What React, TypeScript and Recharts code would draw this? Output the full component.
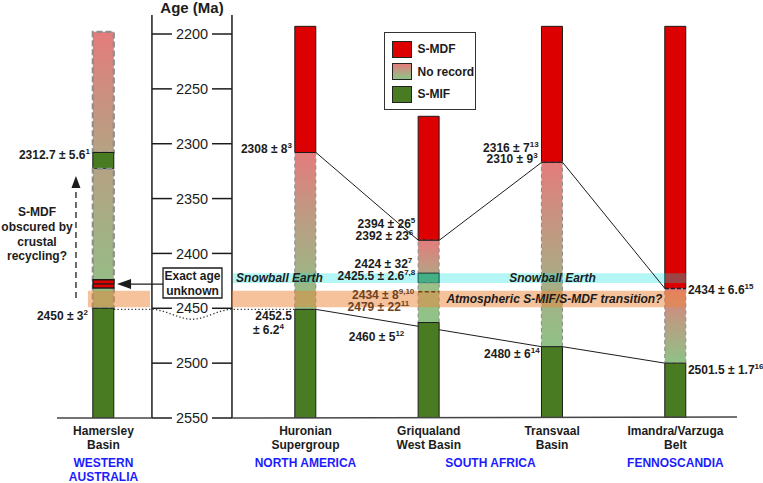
"use client";

import React from "react";
import {
    ComposedChart, Bar, Cell, Line, XAxis, YAxis,
    ReferenceArea, ReferenceLine, ReferenceDot, Legend
} from "recharts";

const FONT = "'Liberation Sans', Arial, Helvetica, sans-serif";
const INK = "#1c1c1c";
const RED = "#dc0000";
const GREEN = "#487b22";
const BLUE = "#1c1cff";
const BROWN = "#6e431f";

// basins and regions
const basinNames = [["Hamersley", "Basin"], ["Huronian", "Supergroup"], ["Griqualand", "West Basin"], ["Transvaal", "Basin"], ["Imandra/Varzuga", "Belt"]];
const regionNames = [["WESTERN", "AUSTRALIA"], ["NORTH AMERICA"], ["SOUTH AFRICA"], ["FENNOSCANDIA"]];
const ageTicks = [2200, 2250, 2300, 2350, 2400, 2450, 2500, 2550];

// record of each basin, top to bottom: [from Ma, to Ma, kind]
type Seg = [number, number, string];
const hamersley: Seg[] = [[2198, 2308, "gradUpper"], [2308, 2323, "mif"], [2323, 2450, "gradLower"], [2450, 2550, "mif"]];
const huronian: Seg[] = [[2193, 2308, "mdf"], [2308, 2451, "grad"], [2451, 2550, "mif"]];
const griqualand: Seg[] = [[2275, 2388, "mdf"], [2388, 2418, "gradUpper"], [2418, 2427, "box"], [2427, 2463, "gradLight"], [2463, 2550, "mif"]];
const transvaal: Seg[] = [[2193, 2317, "mdf"], [2317, 2485, "grad"], [2485, 2550, "mif"]];
const imandra: Seg[] = [[2193, 2432, "mdf"], [2432, 2500, "grad"], [2500, 2550, "mif"]];
const basinSegments = [hamersley, huronian, griqualand, transvaal, imandra];

// event bands (Ma)
const snowballEarth = [2418, 2427];
const transition = [2434, 2449];
const unknownAgeBed = [2424, 2431.5];

// dates: column, side, label age, text, reference
const dates = [
    { col: 0, side: "left", at: 2310, text: "2312.7 ± 5.6", sup: "1" },
    { col: 0, side: "left", at: 2456.5, text: "2450 ± 3", sup: "2", gap: 5 },
    { col: 1, side: "left", at: 2304.5, text: "2308 ± 8", sup: "3" },
    { col: 1, side: "left", at: 2456.6, text: "2452.5", sup: "" },
    { col: 1, side: "left", at: 2469.8, text: "± 6.2", sup: "4", gap: 11 },
    { col: 2, side: "left", at: 2372.5, text: "2394 ± 26", sup: "5" },
    { col: 2, side: "left", at: 2383.5, text: "2392 ± 23", sup: "6", gap: 5 },
    { col: 2, side: "left", at: 2409, text: "2424 ± 32", sup: "7", gap: 6 },
    { col: 2, side: "left", at: 2420, text: "2425.5 ± 2.6", sup: "7,8" },
    { col: 2, side: "left", at: 2437.5, text: "2434 ± 8", sup: "9,10", brown: true, gap: 4 },
    { col: 2, side: "left", at: 2448.5, text: "2479 ± 22", sup: "11", brown: true, gap: 9 },
    { col: 2, side: "left", at: 2475.5, text: "2460 ± 5", sup: "12", gap: 14 },
    { col: 3, side: "left", at: 2304, text: "2316 ± 7", sup: "13" },
    { col: 3, side: "left", at: 2314, text: "2310 ± 9", sup: "3", gap: 4 },
    { col: 3, side: "left", at: 2491, text: "2480 ± 6", sup: "14", gap: 2 },
    { col: 4, side: "right", at: 2433.3, text: "2434 ± 6.6", sup: "15" },
    { col: 4, side: "right", at: 2506, text: "2501.5 ± 1.7", sup: "16" },
];

const legendItems = [
    { label: "S-MDF", swatch: RED },
    { label: "No record", swatch: "linear-gradient(#e47c7c, #b5a283, #8fc286)" },
    { label: "S-MIF", swatch: GREEN },
];

// layout (x in column units)
const COL_X = [-0.638, 1, 2, 3, 4];
const REGION_X = [-0.638, 1, 2.5, 4];
const X_TICKS = [-0.638, 1, 2, 2.5, 3, 4];
const X_DOMAIN = [-1.477, 4.71];
const HALF = 0.085;
const AXIS_L = -0.245;
const AXIS_R = 0.404;
const AXIS_MID = 0.08;
const TICK_LEN = 0.162;

const rows = basinSegments.map((segs, i) => {
    const row: Record<string, number> = { x: COL_X[i], base: segs[0][0] };
    segs.forEach(([from, to], j) => { row[`s${j}`] = to - from; });
    return row;
});
const SEG_KEYS = ["s0", "s1", "s2", "s3", "s4"];

const mdfBase = (i: number) => basinSegments[i].find((s) => s[2] === "mdf")![1];
const mifTop = (i: number) => basinSegments[i][basinSegments[i].length - 1][0];

const mdfLink = [
    { x: COL_X[1] - HALF, age: mdfBase(1) }, { x: COL_X[1] + HALF, age: mdfBase(1) },
    { x: COL_X[2] - HALF, age: mdfBase(2) }, { x: COL_X[2] + HALF, age: mdfBase(2) },
    { x: COL_X[3] - HALF, age: mdfBase(3) }, { x: COL_X[3] + HALF, age: mdfBase(3) },
    { x: COL_X[4] - HALF, age: mdfBase(4) },
];
const mifLink = [
    { x: COL_X[1] + HALF, age: mifTop(1) },
    { x: COL_X[3] - HALF, age: mifTop(3) }, { x: COL_X[3] + HALF, age: mifTop(3) },
    { x: COL_X[4] - HALF, age: mifTop(4) },
];
const correlation = [
    { x: COL_X[0] + HALF, age: 2451 },
    { x: AXIS_L, age: 2451 },
    { x: AXIS_MID, age: 2460 },
    { x: AXIS_R, age: 2451 },
    { x: COL_X[1] - HALF, age: 2451 },
];

const segStyle = (kind: string | undefined, col: number): any => {
    if (!kind) return { fill: "none", stroke: "none" };
    if (kind === "mdf") return { fill: RED, stroke: INK, strokeWidth: 1 };
    if (kind === "mif") return { fill: GREEN, stroke: INK, strokeWidth: 1 };
    if (kind === "box") return { fill: "#5f9a5a", stroke: INK, strokeWidth: 1 };
    const thick = col === 0;
    return {
        fill: `url(#${kind})`,
        stroke: "#8e8e8e",
        strokeWidth: thick ? 2.2 : 1.1,
        strokeDasharray: thick ? "6 3" : "4 3",
    };
};

const textShape = (content: React.ReactNode, o: any = {}) => (p: any) => (
    <text
        x={p.cx + (o.dx ?? 0)}
        y={p.cy + (o.dy ?? 0)}
        textAnchor={o.anchor ?? "middle"}
        fontFamily={FONT}
        fontSize={o.size ?? 12}
        fontWeight={o.weight ?? 700}
        fontStyle={o.italic ? "italic" : "normal"}
        fill={o.color ?? INK}
    >
        {content}
    </text>
);

const BasinTick = ({ x, y, payload }: any) => {
    const ci = COL_X.indexOf(payload.value);
    const ri = REGION_X.indexOf(payload.value);
    return (
        <g fontFamily={FONT} fontSize={12} fontWeight={700}>
            {ci >= 0 && basinNames[ci].map((line, k) => (
                <text key={`b${k}`} x={x} y={y + 16.5 + k * 14.3} textAnchor="middle" fill={INK}>{line}</text>
            ))}
            {ri >= 0 && regionNames[ri].map((line, k) => (
                <text key={`r${k}`} x={x} y={y + 48.5 + k * 14} textAnchor="middle" fill={BLUE}>{line}</text>
            ))}
        </g>
    );
};

const LegendBox = () => (
    <div style={{ position: "relative", width: 92, height: 78, boxSizing: "border-box", border: "1.5px solid #333", background: "#fff", fontFamily: FONT }}>
        {legendItems.map((it, i) => (
            <div key={it.label} style={{ position: "absolute", left: 6.5, top: 7.5 + i * 22.5, display: "flex", alignItems: "center" }}>
                <div style={{ width: 20, height: 17, boxSizing: "border-box", border: "1.5px solid #222", background: it.swatch }} />
                <span style={{ marginLeft: 6, fontSize: 12, fontWeight: 700, color: INK, whiteSpace: "nowrap" }}>{it.label}</span>
            </div>
        ))}
    </div>
);

const arrowLeft = (p: any) => (
    <polygon points={`${p.cx},${p.cy} ${p.cx + 14},${p.cy - 5} ${p.cx + 14},${p.cy + 5}`} fill={INK} />
);
const arrowUp = (p: any) => (
    <polygon points={`${p.cx},${p.cy} ${p.cx - 4.5},${p.cy + 12} ${p.cx + 4.5},${p.cy + 12}`} fill={INK} />
);

export default function App() {
    return (
        <div style={{ width: 763, height: 483, fontFamily: FONT }}>
            <style>{"body{margin:0}"}</style>
            <ComposedChart width={763} height={483} data={rows} margin={{ top: 0, right: 0, bottom: 0, left: 0 }}>
                <defs>
                    <linearGradient id="grad" x1="0" y1="0" x2="0" y2="1">
                        <stop offset="0" stopColor="#e47c7c" />
                        <stop offset="0.5" stopColor="#b5a283" />
                        <stop offset="1" stopColor="#8fc286" />
                    </linearGradient>
                    <linearGradient id="gradUpper" x1="0" y1="0" x2="0" y2="1">
                        <stop offset="0" stopColor="#e47c7c" />
                        <stop offset="1" stopColor="#b5a283" />
                    </linearGradient>
                    <linearGradient id="gradLower" x1="0" y1="0" x2="0" y2="1">
                        <stop offset="0" stopColor="#b5a283" />
                        <stop offset="1" stopColor="#8fc286" />
                    </linearGradient>
                    <linearGradient id="gradLight" x1="0" y1="0" x2="0" y2="1">
                        <stop offset="0" stopColor="#9cc08a" />
                        <stop offset="1" stopColor="#8fc286" />
                    </linearGradient>
                </defs>
                <XAxis
                    type="number"
                    dataKey="x"
                    domain={X_DOMAIN}
                    allowDataOverflow
                    ticks={X_TICKS}
                    interval={0}
                    height={65}
                    axisLine={false}
                    tickLine={false}
                    tickSize={0}
                    tickMargin={0}
                    tick={(p: any) => <BasinTick {...p} />}
                />
                <XAxis xAxisId="links" type="number" dataKey="x" domain={X_DOMAIN} allowDataOverflow hide />
                <YAxis type="number" domain={[2169, 2550]} reversed allowDataOverflow hide />

                {/* S-MIF boundary link, drawn behind the columns */}
                <Line xAxisId="links" data={mifLink} dataKey="age" type="linear" stroke={INK} strokeWidth={1} dot={false} activeDot={false} isAnimationActive={false} zIndex={250} />

                <Bar dataKey="base" stackId="col" barSize={21} fill="none" isAnimationActive={false} />
                {SEG_KEYS.map((key, j) => (
                    <Bar key={key} dataKey={key} stackId="col" barSize={21} isAnimationActive={false}>
                        {basinSegments.map((segs, i) => (
                            <Cell key={i} {...segStyle(segs[j]?.[2], i)} />
                        ))}
                    </Bar>
                ))}

                {/* bands */}
                <ReferenceArea x1={AXIS_R + 0.008} x2={COL_X[4] + HALF} y1={snowballEarth[0]} y2={snowballEarth[1]} fill="#08e0e0" fillOpacity={0.3} stroke="none" ifOverflow="visible" zIndex={450} />
                <ReferenceArea x1={-0.764} x2={-0.261} y1={transition[0]} y2={transition[1]} fill="#eb8539" fillOpacity={0.5} stroke="none" ifOverflow="visible" zIndex={450} />
                <ReferenceArea x1={AXIS_R} x2={COL_X[4] + HALF} y1={transition[0]} y2={transition[1]} fill="#eb8539" fillOpacity={0.5} stroke="none" ifOverflow="visible" zIndex={450} />

                {/* Hamersley bed of unknown age */}
                <ReferenceArea x1={COL_X[0] - HALF} x2={COL_X[0] + HALF} y1={unknownAgeBed[0]} y2={unknownAgeBed[1]} fill={RED} fillOpacity={1} stroke={INK} strokeWidth={1.3} ifOverflow="visible" zIndex={460} />
                <ReferenceLine segment={[{ x: COL_X[0] - HALF, y: (unknownAgeBed[0] + unknownAgeBed[1]) / 2 }, { x: COL_X[0] + HALF, y: (unknownAgeBed[0] + unknownAgeBed[1]) / 2 }]} stroke={INK} strokeWidth={1.3} ifOverflow="visible" zIndex={470} />

                {/* dashed horizons */}
                <ReferenceLine segment={[{ x: COL_X[2] - HALF, y: 2435 }, { x: COL_X[2] + HALF, y: 2435 }]} stroke={BROWN} strokeWidth={1.5} strokeDasharray="4 2.5" zIndex={470} />
                <ReferenceLine segment={[{ x: COL_X[4] - HALF, y: mdfBase(4) }, { x: COL_X[4] + HALF, y: mdfBase(4) }]} stroke={INK} strokeWidth={1.5} strokeDasharray="4 2" zIndex={470} />

                {/* S-MDF boundary link and Hamersley-Huronian correlation */}
                <Line xAxisId="links" data={mdfLink} dataKey="age" type="linear" stroke={INK} strokeWidth={1} dot={false} activeDot={false} isAnimationActive={false} zIndex={480} />
                <Line xAxisId="links" data={correlation} dataKey="age" type="monotone" stroke="#333" strokeWidth={1.3} strokeDasharray="1.3 2.2" dot={false} activeDot={false} isAnimationActive={false} zIndex={480} />

                {/* age axis */}
                <ReferenceLine segment={[{ x: AXIS_L, y: 2182.7 }, { x: AXIS_L, y: 2550 }]} stroke={INK} strokeWidth={1.5} />
                <ReferenceLine segment={[{ x: AXIS_R, y: 2182.7 }, { x: AXIS_R, y: 2550 }]} stroke={INK} strokeWidth={1.5} />
                {ageTicks.map((t) => (
                    <React.Fragment key={t}>
                        <ReferenceLine segment={[{ x: AXIS_L, y: t }, { x: AXIS_L + TICK_LEN, y: t }]} stroke={INK} strokeWidth={1.5} />
                        <ReferenceLine segment={[{ x: AXIS_R - TICK_LEN, y: t }, { x: AXIS_R, y: t }]} stroke={INK} strokeWidth={1.5} />
                        <ReferenceDot x={AXIS_MID} y={t} r={0} shape={textShape(String(t), { dy: 5.2, size: 14.5, weight: 400 })} />
                    </React.Fragment>
                ))}
                <ReferenceDot x={AXIS_MID} y={2182.7} r={0} shape={textShape("Age (Ma)", { dy: -2.5, size: 15 })} />

                {/* baselines */}
                <ReferenceLine segment={[{ x: -1.015, y: 2550 }, { x: AXIS_L, y: 2550 }]} stroke="#444" strokeWidth={1.5} />
                <ReferenceLine segment={[{ x: AXIS_R, y: 2550 }, { x: 4.499, y: 2549 }]} stroke="#444" strokeWidth={1.5} />

                {/* dates */}
                {dates.map((d, i) => {
                    const right = d.side === "right";
                    const gap = d.gap ?? 3;
                    return (
                        <ReferenceDot
                            key={i}
                            x={COL_X[d.col] + (right ? HALF : -HALF)}
                            y={d.at}
                            r={0}
                            zIndex={600}
                            shape={textShape(
                                <>
                                    {d.text}
                                    {d.sup && <tspan dy={-5} fontSize={8}>{d.sup}</tspan>}
                                </>,
                                { anchor: right ? "start" : "end", dx: right ? 2 : -gap, dy: 4.3, color: d.brown ? BROWN : INK }
                            )}
                        />
                    );
                })}

                {/* band labels */}
                <ReferenceDot x={0.789} y={2422.4} r={0} zIndex={600} shape={textShape("Snowball Earth", { dy: 4.3, italic: true })} />
                <ReferenceDot x={3.003} y={2422.4} r={0} zIndex={600} shape={textShape("Snowball Earth", { dy: 4.3, italic: true })} />
                <ReferenceDot x={3.019} y={2441.5} r={0} zIndex={600} shape={textShape("Atmospheric S-MIF/S-MDF transition?", { dy: 4.3, italic: true })} />

                {/* Hamersley notes */}
                <ReferenceDot
                    x={-1.177}
                    y={2362.2}
                    r={0}
                    shape={textShape(
                        ["S-MDF", "obscured by", "crustal", "recycling?"].map((l, k) => (
                            <tspan key={k} x={37} dy={k === 0 ? 0 : 14.7}>{l}</tspan>
                        )),
                        { dy: 4.3 }
                    )}
                />
                <ReferenceLine segment={[{ x: -0.861, y: 2440.6 }, { x: -0.861, y: 2340.4 }]} stroke={INK} strokeWidth={1.3} strokeDasharray="6 4" />
                <ReferenceDot x={-0.861} y={2329.4} r={0} shape={arrowUp} />

                <ReferenceArea x1={-0.155} x2={0.323} y1={2413.3} y2={2440.6} fill="#fff" fillOpacity={1} stroke={INK} strokeWidth={1.3} zIndex={460} />
                <ReferenceDot x={0.084} y={2420.6} r={0} zIndex={600} shape={textShape("Exact age", { dy: 4.3 })} />
                <ReferenceDot x={0.084} y={2434.3} r={0} zIndex={600} shape={textShape("unknown", { dy: 4.3 })} />
                <ReferenceLine segment={[{ x: -0.415, y: 2427.9 }, { x: -0.155, y: 2427.9 }]} stroke={INK} strokeWidth={1.3} />
                <ReferenceDot x={-0.528} y={2427.9} r={0} shape={arrowLeft} />

                <Legend
                    layout="vertical"
                    align="center"
                    verticalAlign="middle"
                    wrapperStyle={{ left: 384, top: 32, width: 92, height: 78 }}
                    content={() => <LegendBox />}
                />
            </ComposedChart>
        </div>
    );
}
